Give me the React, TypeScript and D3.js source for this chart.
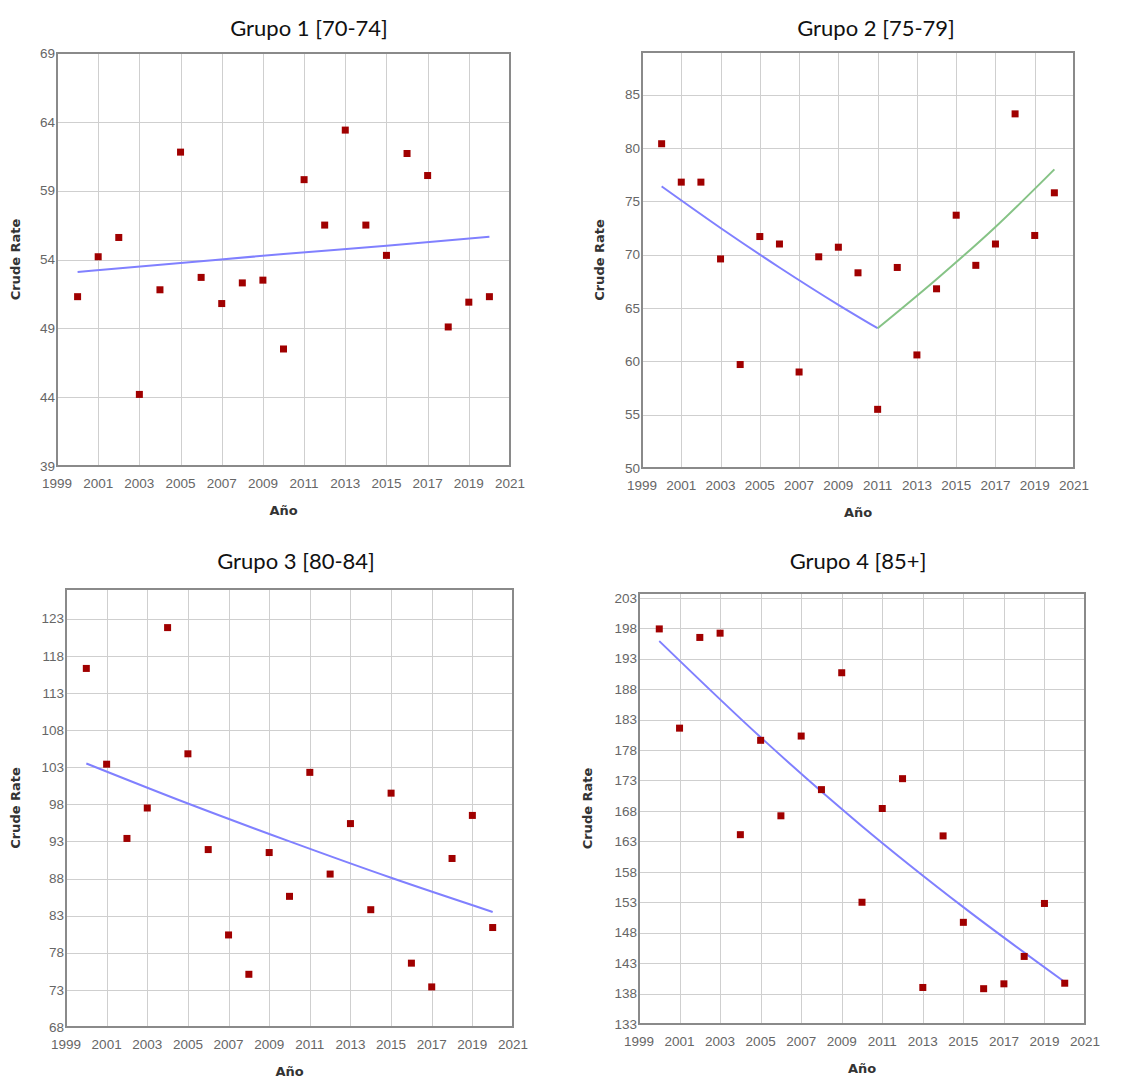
import React, { useEffect, useRef } from "react";
import * as d3 from "d3";

// --- data
const years = [2000, 2001, 2002, 2003, 2004, 2005, 2006, 2007, 2008, 2009, 2010,
  2011, 2012, 2013, 2014, 2015, 2016, 2017, 2018, 2019, 2020];
const xTicks = [1999, 2001, 2003, 2005, 2007, 2009, 2011, 2013, 2015, 2017, 2019, 2021];

const group1Rates = [51.3, 54.2, 55.6, 44.2, 51.8, 61.8, 52.7, 50.8, 52.3, 52.5, 47.5,
  59.8, 56.5, 63.4, 56.5, 54.3, 61.7, 60.1, 49.1, 50.9, 51.3];
const group1Trend = [[2000, 53.1], [2005, 53.75], [2010, 54.4], [2015, 55.0], [2020, 55.65]];
const group1Ticks = [39, 44, 49, 54, 59, 64, 69];

const group2Rates = [80.4, 76.8, 76.8, 69.6, 59.7, 71.7, 71.0, 59.0, 69.8, 70.7, 68.3,
  55.5, 68.8, 60.6, 66.8, 73.7, 69.0, 71.0, 83.2, 71.8, 75.8];
const group2TrendA = [[2000, 76.4], [2003, 72.5], [2006, 68.8], [2009, 65.3], [2011, 63.1]];
const group2TrendB = [[2011, 63.1], [2014, 67.7], [2017, 72.6], [2020, 78.0]];
const group2Ticks = [50, 55, 60, 65, 70, 75, 80, 85];

const group3Rates = [116.3, 103.4, 93.4, 97.5, 121.8, 104.8, 91.9, 80.4, 75.1, 91.5, 85.6,
  102.3, 88.6, 95.4, 83.8, 99.5, 76.6, 73.4, 90.7, 96.5, 81.4];
const group3Trend = [[2000, 103.5], [2005, 98.1], [2010, 93.0], [2015, 88.1], [2020, 83.5]];
const group3Ticks = [68, 73, 78, 83, 88, 93, 98, 103, 108, 113, 118, 123];

const group4Rates = [197.9, 181.6, 196.5, 197.2, 164.1, 179.6, 167.2, 180.3, 171.5, 190.7, 153.0,
  168.4, 173.3, 139.0, 163.9, 149.7, 138.8, 139.6, 144.1, 152.8, 139.7];
const group4Trend = [[2000, 195.9], [2005, 180.1], [2010, 165.5], [2015, 152.2], [2020, 139.9]];
const group4Ticks = [133, 138, 143, 148, 153, 158, 163, 168, 173, 178, 183, 188, 193, 198, 203];

const BLUE = "#8080ff";
const GREEN = "#86c386";

const panels = [
  {
    title: "Grupo 1 [70-74]", rates: group1Rates, ticks: group1Ticks, yMax: 69,
    trends: [{ pts: group1Trend, color: BLUE }],
    box: { left: 57, top: 53, right: 510, bottom: 466 }, titleX: 309, titleY: 36, yLabelX: 20,
  },
  {
    title: "Grupo 2 [75-79]", rates: group2Rates, ticks: group2Ticks, yMax: 89,
    trends: [{ pts: group2TrendA, color: BLUE }, { pts: group2TrendB, color: GREEN }],
    box: { left: 642, top: 52, right: 1074, bottom: 468 }, titleX: 876, titleY: 36, yLabelX: 604,
  },
  {
    title: "Grupo 3 [80-84]", rates: group3Rates, ticks: group3Ticks, yMax: 127,
    trends: [{ pts: group3Trend, color: BLUE }],
    box: { left: 66, top: 589, right: 513, bottom: 1027 }, titleX: 296, titleY: 569, yLabelX: 20,
  },
  {
    title: "Grupo 4 [85+]", rates: group4Rates, ticks: group4Ticks, yMax: 203.8,
    trends: [{ pts: group4Trend, color: BLUE }],
    box: { left: 639, top: 593, right: 1085, bottom: 1024 }, titleX: 858, titleY: 569, yLabelX: 592,
  },
];

const TICK_FONT = "'Liberation Sans Narrow', 'Liberation Sans', Arial, sans-serif";
const LABEL_FONT = "'DejaVu Sans', Verdana, sans-serif";

const App = () => {
  const svgRef = useRef(null);

  useEffect(() => {
    const svg = d3.select(svgRef.current);
    svg.selectAll("*").remove();

    panels.forEach(p => {
      const { left, top, right, bottom } = p.box;
      const x = d3.scaleLinear().domain([1999, 2021]).range([left, right]);
      const y = d3.scaleLinear().domain([p.ticks[0], p.yMax]).range([bottom, top]);
      const g = svg.append("g");

      g.append("rect")
        .attr("x", left).attr("y", top)
        .attr("width", right - left).attr("height", bottom - top)
        .attr("fill", "#fff");

      // grid
      g.append("g").selectAll("line")
        .data(p.ticks.slice(1))
        .enter().append("line")
        .attr("x1", left).attr("x2", right)
        .attr("y1", d => Math.round(y(d)) + 0.5).attr("y2", d => Math.round(y(d)) + 0.5)
        .attr("stroke", "#cfcfcf");
      g.append("g").selectAll("line")
        .data(xTicks.slice(1, -1))
        .enter().append("line")
        .attr("y1", top).attr("y2", bottom)
        .attr("x1", d => Math.round(x(d)) + 0.5).attr("x2", d => Math.round(x(d)) + 0.5)
        .attr("stroke", "#cfcfcf");

      // tick labels
      g.append("g").selectAll("text")
        .data(p.ticks)
        .enter().append("text")
        .attr("x", left - 2).attr("y", d => y(d))
        .attr("dy", "0.35em")
        .attr("text-anchor", "end")
        .attr("font-family", TICK_FONT).attr("font-size", 13.5)
        .attr("fill", "#666")
        .text(d => d);
      g.append("g").selectAll("text")
        .data(xTicks)
        .enter().append("text")
        .attr("x", d => x(d)).attr("y", bottom + 22)
        .attr("text-anchor", "middle")
        .attr("font-family", TICK_FONT).attr("font-size", 13.5)
        .attr("fill", "#666")
        .text(d => d);

      // trend lines
      const line = d3.line().x(d => x(d[0])).y(d => y(d[1])).curve(d3.curveMonotoneX);
      p.trends.forEach(t => {
        g.append("path")
          .attr("d", line(t.pts))
          .attr("fill", "none")
          .attr("stroke", t.color)
          .attr("stroke-width", 2);
      });

      // points
      g.append("g").selectAll("rect")
        .data(years.map((yr, i) => [yr, p.rates[i]]))
        .enter().append("rect")
        .attr("x", d => x(d[0]) - 3.5).attr("y", d => y(d[1]) - 3.5)
        .attr("width", 7).attr("height", 7)
        .attr("fill", "#a00000");

      // frame
      g.append("rect")
        .attr("x", left).attr("y", top)
        .attr("width", right - left).attr("height", bottom - top)
        .attr("fill", "none")
        .attr("stroke", "#8a8a8a").attr("stroke-width", 2);

      // titles
      g.append("text")
        .attr("x", p.titleX).attr("y", p.titleY)
        .attr("text-anchor", "middle")
        .attr("font-family", "Lato, 'Open Sans', sans-serif").attr("font-size", 22)
        .attr("fill", "#111")
        .text(p.title);

      g.append("text")
        .attr("transform", `translate(${p.yLabelX},${(top + bottom) / 2}) rotate(-90)`)
        .attr("text-anchor", "middle")
        .attr("font-family", LABEL_FONT).attr("font-size", 13).attr("font-weight", "bold")
        .attr("fill", "#333")
        .text("Crude Rate");

      g.append("text")
        .attr("x", (left + right) / 2).attr("y", bottom + 49)
        .attr("text-anchor", "middle")
        .attr("font-family", LABEL_FONT).attr("font-size", 13).attr("font-weight", "bold")
        .attr("fill", "#333")
        .text("Año");
    });
  }, []);

  return (
    <div style={{ position: "absolute", left: 0, top: 0, width: 1148, height: 1081, background: "#fff" }}>
      <svg ref={svgRef} width={1148} height={1081} style={{ display: "block" }} />
    </div>
  );
};

export default App;
